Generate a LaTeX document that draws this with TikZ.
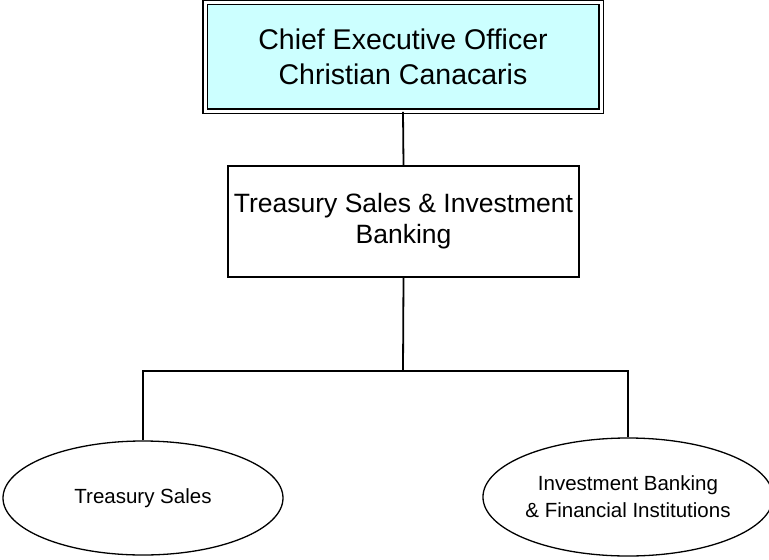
\documentclass[tikz,border=0pt]{standalone}
\usepackage{fontspec}
\setmainfont{Liberation Sans}
\usetikzlibrary{shapes.geometric}
\definecolor{ceofill}{RGB}{204,255,255}
\tikzset{
  ceobox/.style={draw=black, fill=ceofill, double=white, double distance=3pt, line width=1.3pt,
    minimum width=396pt, minimum height=109pt, inner sep=0pt, align=center,
    font=\fontsize{28.5}{35}\selectfont},
  midbox/.style={draw=black, fill=white, line width=2pt, minimum width=351pt, minimum height=111pt,
    inner sep=0pt, align=center, font=\fontsize{26.5}{31}\selectfont},
  unit/.style={draw=black, fill=white, ellipse, line width=1.3pt, inner sep=0pt, align=center},
  conn/.style={draw=black, line width=1.8pt}
}
\begin{document}
\begin{tikzpicture}[x=1pt,y=-1pt]
\useasboundingbox (0,0) rectangle (769,560);
\fill[white] (0,0) rectangle (769,560);
\node[ceobox] (ceo) at (403,56.7) {Chief Executive Officer\\Christian Canacaris};
\node[midbox] (tsib) at (403.5,221.5) {Treasury Sales \& Investment\\Banking};
\node[unit, minimum width=280pt, minimum height=114pt, font=\fontsize{20.5}{26}\selectfont] (ts) at (143,498) {Treasury Sales};
\node[unit, minimum width=278pt, minimum height=118pt, font=\fontsize{20.5}{27}\selectfont] (ib) at (628,497) {Investment Banking\\\& Financial Institutions};
\coordinate (bus) at (403,371);
\draw[conn] (ceo.south) -- (tsib.north);
\draw[conn] (tsib.south) -- (bus);
\draw[conn] (ts.north) |- (bus) -| (ib.north);
\end{tikzpicture}
\end{document}
